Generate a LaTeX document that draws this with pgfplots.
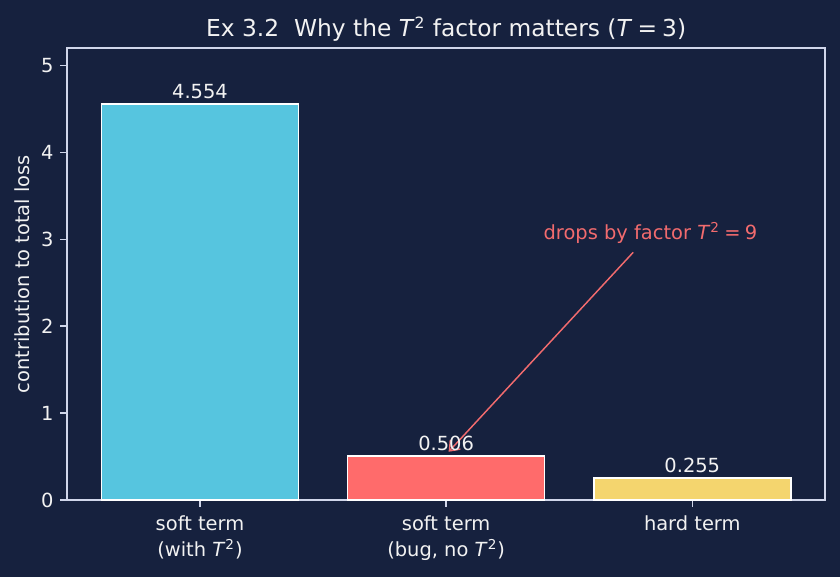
\documentclass[border=0pt]{standalone}
\usepackage{pgfplots}
\pgfplotsset{compat=1.18}
\usepackage{fontspec}
\setmainfont{DejaVu Sans}
\usetikzlibrary{arrows.meta}

\definecolor{bg}{HTML}{16213E}
\definecolor{spine}{HTML}{D0D6EA}
\definecolor{fg}{HTML}{F2F2F2}
\definecolor{cyanbar}{HTML}{56C5DF}
\definecolor{redbar}{HTML}{FF6B6B}
\definecolor{yelbar}{HTML}{F4D56E}
\definecolor{note}{HTML}{F26B6E}

\newcommand{\Tsq}{\textit{T}\textsuperscript{2}}

\begin{document}
\begin{tikzpicture}
\fill[bg] (-34.5pt,-39.6pt) rectangle (397.5pt,257.2pt);
\path[use as bounding box] (-34.5pt,-39.6pt) rectangle (397.5pt,257.2pt);
\begin{axis}[
  at={(0,0)}, anchor=south west,
  scale only axis, width=389.9pt, height=232.5pt,
  xmin=-0.54, xmax=2.54, ymin=0, ymax=5.2,
  clip=false,
  axis line style={spine, line width=0.8pt},
  tick align=outside, major tick length=3.5pt,
  tick style={spine, line width=0.8pt},
  xtick pos=left, ytick pos=left,
  xtick={0,1,2},
  xticklabels={{soft term\\(with \Tsq)},{soft term\\(bug, no \Tsq)},{hard term}},
  ytick={0,1,2,3,4,5},
  /pgf/number format/assume math mode=true,
  tick label style={font=\fontsize{10}{13.4}\selectfont, text=fg},
  xticklabel style={align=center, yshift=-1pt},
  ylabel={contribution to total loss},
  every axis y label/.style={at={(axis description cs:-0.0595,0.5)}, rotate=90, anchor=center,
    font=\fontsize{10}{12}\selectfont, text=fg},
  title={Ex 3.2\ \ Why the \Tsq\ factor matters (\textit{T}\hspace{0.22em}=\hspace{0.22em}3)},
  every axis title/.style={at={(axis description cs:0.5,1)}, anchor=base, yshift=5.7pt,
    font=\fontsize{12}{14}\selectfont, text=fg},
  nodes near coords,
  point meta=explicit symbolic,
  every node near coord/.append style={font=\fontsize{10}{12}\selectfont, text=fg, anchor=south, inner sep=2.2pt},
]
\addplot[ybar, bar width=0.8, bar shift=0pt, fill=cyanbar, draw=white, line width=0.8pt]
  coordinates {(0,4.554) [4.554]};
\addplot[ybar, bar width=0.8, bar shift=0pt, fill=redbar, draw=white, line width=0.8pt]
  coordinates {(1,0.506) [0.506]};
\addplot[ybar, bar width=0.8, bar shift=0pt, fill=yelbar, draw=white, line width=0.8pt]
  coordinates {(2,0.255) [0.255]};

% callout on the buggy soft term
\node[anchor=base, text=note, font=\fontsize{10}{12}\selectfont, inner sep=0pt]
  at (axis cs:1.83,3.0) {drops by factor \Tsq\hspace{0.22em}=\hspace{0.22em}9};
\draw[note, line width=0.75pt, -{Straight Barb[length=4.5pt,width=7pt]}]
  (axis cs:1.76,2.85) -- (axis cs:1.01,0.556);
\end{axis}
\end{tikzpicture}
\end{document}
